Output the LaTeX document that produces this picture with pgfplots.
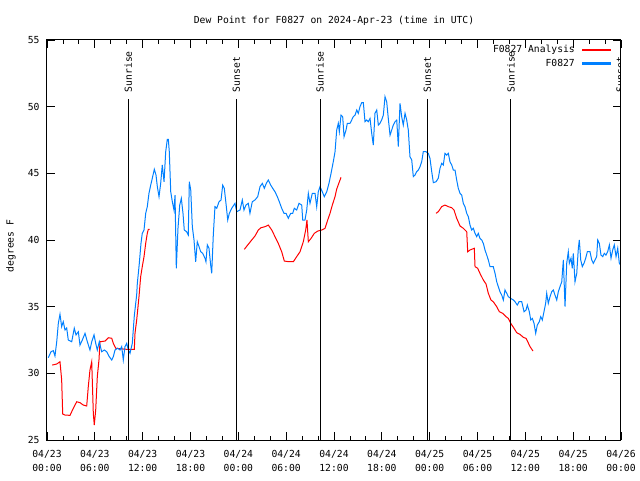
\documentclass[border=0pt]{standalone}
\usepackage{fontspec}
\setmainfont{DejaVu Sans Mono}
\usepackage{pgfplots}
\pgfplotsset{compat=1.18}
\definecolor{gred}{RGB}{255,0,0}
\definecolor{gblue}{RGB}{0,128,255}
\begin{document}
\begin{tikzpicture}
\useasboundingbox (-47pt,-40pt) rectangle (593pt,440pt);
\begin{axis}[
  at={(0pt,0pt)}, anchor=south west,
  scale only axis, width=574pt, height=400pt,
  xmin=0, xmax=72, ymin=25, ymax=55,
  xtick={0,6,...,72},
  xticklabels={{04/23\\00:00},{04/23\\06:00},{04/23\\12:00},{04/23\\18:00},{04/24\\00:00},{04/24\\06:00},{04/24\\12:00},{04/24\\18:00},{04/25\\00:00},{04/25\\06:00},{04/25\\12:00},{04/25\\18:00},{04/26\\00:00}},
  minor x tick num=2,
  ytick={25,30,...,55},
  tick align=inside,
  major tick length=8pt, minor tick length=4pt,
  tick style={black, line width=0.8pt},
  axis line style={black, line width=1pt},
  font=\fontsize{9.7}{14}\selectfont,
  /pgf/number format/assume math mode=true,
  xticklabel style={align=center, yshift=-7pt, font=\fontsize{9.7}{14}\selectfont},
  yticklabel style={xshift=-4pt},
  title={Dew Point for F0827 on 2024-Apr-23 (time in UTC)},
  title style={at={(axis description cs:0.5,1)}, anchor=south, inner sep=0pt, yshift=8pt},
  ylabel={degrees F},
  every axis y label/.style={at={(axis description cs:0,0.5)}, xshift=-36pt, yshift=-6pt, rotate=90, anchor=center},
  unbounded coords=jump,
  legend plot pos=right,
  legend cell align=right,
  legend style={at={(axis description cs:1,1)}, anchor=north east, xshift=-10pt, yshift=-4pt, draw=none, fill=none, inner sep=0pt, row sep=3pt, nodes={inner sep=1pt}, /tikz/every odd column/.append style={column sep=6pt}},
]
\addplot[gred, line width=1pt, legend image code/.code={\fill[fill=gred] (0pt,-0.55pt) rectangle (28pt,0.55pt);}] coordinates {
(0.66,30.62) (1.22,30.70) (1.63,30.87) (1.84,29.50) (1.97,26.95) (2.26,26.87) (2.89,26.85) (3.30,27.38) (3.73,27.87) (4.14,27.80) (4.55,27.62) (4.98,27.55) (5.18,29.00) (5.39,30.25) (5.61,30.87) (5.81,27.00) (5.93,26.12) (6.11,27.25) (6.31,29.75) (6.52,31.00) (6.65,32.37) (7.28,32.42) (7.69,32.67) (8.12,32.63) (8.32,32.25) (8.62,31.88) (10.00,31.80) (10.95,31.80) (11.04,33.00) (11.25,34.00) (11.54,35.75) (11.75,37.25) (11.95,38.00) (12.17,38.75) (12.38,39.75) (12.58,40.50) (12.71,40.80) (12.88,40.80)
(18,nan)
(24.75,39.30) (25.25,39.68) (25.68,40.00) (26.09,40.30) (26.51,40.75) (26.84,40.92) (27.35,41.00) (27.76,41.12) (28.19,40.75) (28.60,40.25) (29.01,39.75) (29.44,39.12) (29.77,38.42) (30.36,38.37) (30.90,38.37) (31.32,38.75) (31.74,39.12) (32.15,39.87) (32.45,40.75) (32.61,41.50) (32.78,39.87) (33.12,40.12) (33.53,40.50) (33.96,40.67) (34.46,40.75) (34.87,40.87) (35.21,41.50) (35.50,42.00) (35.79,42.62) (36.13,43.25) (36.34,43.82) (36.88,44.70)
(42,nan)
(48.80,42.00) (49.08,42.12) (49.51,42.50) (49.92,42.62) (50.34,42.50) (50.77,42.42) (51.05,42.25) (51.39,41.63) (51.81,41.05) (52.22,40.88) (52.65,40.62) (52.77,39.12) (53.06,39.25) (53.35,39.32) (53.60,39.38) (53.69,38.00) (54.02,37.88) (54.31,37.50) (54.73,37.00) (55.07,36.70) (55.36,36.00) (55.69,35.50) (55.98,35.37) (56.41,35.00) (56.74,34.62) (57.16,34.50) (57.58,34.25) (57.87,34.12) (58.17,33.75) (58.58,33.38) (58.92,33.05) (59.33,32.92) (59.75,32.70) (60.09,32.62) (60.30,32.37) (60.59,32.00) (60.71,31.90) (60.96,31.67)
};
\addlegendentry{F0827 Analysis}
\addplot[gblue, line width=1pt, legend image code/.code={\fill[fill=gblue] (0pt,-0.55pt) rectangle (28pt,0.55pt);}] coordinates {
(0.16,31.17) (0.50,31.62) (0.79,31.70) (1.00,31.30) (1.22,32.37) (1.42,33.75) (1.63,34.43) (1.84,33.50) (2.04,33.87) (2.26,33.25) (2.47,33.40) (2.67,32.50) (3.10,32.37) (3.42,33.38) (3.64,32.88) (3.93,33.12) (4.14,32.12) (4.43,32.50) (4.77,33.00) (5.06,32.37) (5.39,31.75) (5.61,32.37) (5.90,32.88) (6.11,32.25) (6.31,31.75) (6.56,32.37) (6.86,31.62) (7.19,31.75) (7.49,31.62) (7.81,31.25) (8.12,31.00) (8.32,31.25) (8.53,31.75) (8.87,31.88) (9.16,31.75) (9.37,32.00) (9.57,31.00) (9.78,32.00) (10.00,32.25) (10.20,31.75) (10.41,31.50) (10.70,32.25) (10.95,34.30) (11.25,35.90) (11.33,36.75) (11.58,38.25) (11.79,39.75) (11.95,40.50) (12.17,40.75) (12.38,42.00) (12.58,42.50) (12.79,43.50) (13.01,44.12) (13.21,44.63) (13.46,45.30) (13.67,44.88) (13.84,44.00) (14.05,43.25) (14.26,44.25) (14.46,45.63) (14.68,44.37) (14.89,46.62) (15.09,47.55) (15.22,47.55) (15.34,46.62) (15.52,43.62) (15.72,42.87) (15.93,42.25) (16.06,43.37) (16.22,37.88) (16.43,40.88) (16.65,42.62) (16.85,43.12) (17.06,42.00) (17.22,40.75) (17.52,40.62) (17.72,40.37) (17.85,44.37) (18.03,43.75) (18.23,41.00) (18.44,40.00) (18.65,38.37) (18.85,39.87) (19.07,39.50) (19.28,39.12) (19.53,39.00) (19.82,38.63) (19.94,38.37) (20.11,39.63) (20.32,39.38) (20.53,38.12) (20.66,37.50) (20.86,40.37) (21.07,42.50) (21.29,42.38) (21.58,42.87) (21.83,43.00) (22.04,44.12) (22.24,43.88) (22.45,42.75) (22.67,41.50) (22.87,42.00) (23.17,42.38) (23.58,42.75) (23.80,42.12) (24.21,42.25) (24.50,43.00) (24.71,42.25) (24.96,42.62) (25.25,42.75) (25.46,42.00) (25.75,42.87) (26.09,43.00) (26.43,43.25) (26.72,44.00) (27.01,44.25) (27.26,43.88) (27.51,44.25) (27.76,44.50) (28.06,44.12) (28.31,43.88) (28.60,43.62) (28.89,43.25) (29.14,42.87) (29.44,42.38) (29.73,42.00) (29.98,42.00) (30.27,41.63) (30.57,42.00) (30.82,42.00) (31.02,42.38) (31.32,42.25) (31.61,42.75) (31.95,42.62) (32.08,41.50) (32.36,41.50) (32.58,42.25) (32.78,43.50) (32.99,42.75) (33.28,43.50) (33.62,43.50) (33.83,42.50) (34.03,43.62) (34.25,44.00) (34.53,43.62) (34.78,43.25) (35.09,43.62) (35.37,44.25) (35.63,45.00) (35.91,45.87) (36.13,46.62) (36.34,48.25) (36.54,48.75) (36.67,48.12) (36.88,49.37) (37.09,49.25) (37.26,47.75) (37.51,48.25) (37.67,48.75) (38.01,48.75) (38.22,49.00) (38.42,49.25) (38.64,49.37) (38.85,49.75) (39.05,49.50) (39.26,50.00) (39.48,50.30) (39.68,50.30) (39.89,48.87) (40.10,49.00) (40.30,48.87) (40.52,49.12) (40.73,48.00) (40.93,47.12) (41.14,49.50) (41.36,49.75) (41.56,48.62) (41.77,48.75) (41.98,49.00) (42.19,49.37) (42.40,50.75) (42.61,50.37) (42.81,49.12) (43.03,47.87) (43.24,48.25) (43.44,48.62) (43.65,48.87) (43.87,49.00) (44.07,47.00) (44.28,50.25) (44.49,49.25) (44.69,48.62) (44.91,49.50) (45.12,49.00) (45.32,48.25) (45.53,46.25) (45.75,46.00) (45.95,44.75) (46.16,44.87) (46.37,45.12) (46.58,45.25) (46.79,45.50) (47.00,45.87) (47.20,46.62) (47.54,46.62) (47.83,46.50) (48.04,46.12) (48.26,45.12) (48.46,44.30) (48.80,44.37) (49.08,44.63) (49.30,45.38) (49.51,45.75) (49.71,45.62) (49.92,46.50) (50.14,46.37) (50.34,46.50) (50.55,45.87) (50.77,45.62) (50.97,45.25) (51.18,45.25) (51.39,44.50) (51.59,43.88) (51.81,43.50) (52.02,43.37) (52.22,42.75) (52.43,42.50) (52.65,42.00) (52.85,41.75) (53.06,41.12) (53.27,40.75) (53.48,40.88) (53.69,40.50) (53.90,40.25) (54.10,40.50) (54.31,40.12) (54.53,40.00) (54.73,39.75) (54.94,39.25) (55.16,38.87) (55.36,38.50) (55.57,38.00) (55.98,38.00) (56.20,37.50) (56.41,36.87) (56.61,36.50) (56.82,36.12) (57.04,35.87) (57.24,35.50) (57.45,36.25) (57.67,36.00) (57.87,35.75) (58.17,35.62) (58.50,35.50) (58.71,35.37) (58.99,35.12) (59.21,35.37) (59.55,35.37) (59.84,34.62) (60.09,34.75) (60.25,35.12) (60.50,34.62) (60.68,34.00) (60.88,34.12) (61.09,33.75) (61.30,33.00) (61.50,33.62) (61.75,33.87) (61.93,34.25) (62.13,34.00) (62.34,34.62) (62.55,35.25) (62.68,36.00) (62.88,35.25) (63.10,35.75) (63.31,36.12) (63.51,36.25) (63.72,35.87) (63.94,35.50) (64.14,36.12) (64.35,36.50) (64.57,36.87) (64.69,37.88) (64.77,38.50) (64.98,35.00) (65.19,38.25) (65.39,39.12) (65.52,38.25) (65.73,38.63) (65.89,37.88) (66.02,39.00) (66.23,36.87) (66.45,37.50) (66.65,39.38) (66.77,40.00) (66.95,38.50) (67.15,38.00) (67.36,38.25) (67.57,38.63) (67.78,39.12) (68.11,39.12) (68.33,38.50) (68.53,38.25) (68.74,38.50) (68.95,38.75) (69.08,40.00) (69.28,39.75) (69.49,38.87) (69.71,38.75) (69.91,39.00) (70.12,38.87) (70.33,39.12) (70.54,39.63) (70.75,38.63) (70.96,39.25) (71.16,39.63) (71.38,38.75) (71.59,39.38) (71.79,38.25) (71.97,38.12)
};
\addlegendentry{F0827}
\foreach \h/\lab in {10.2/Sunrise, 23.75/Sunset, 34.25/Sunrise, 47.7/Sunset, 58.2/Sunrise, 71.9/Sunset}{
  \edef\temp{\noexpand\draw[black, line width=1pt] (axis cs:\h,25) -- (axis cs:\h,50.55);
  \noexpand\node[rotate=90, anchor=west, inner sep=1pt] at (axis cs:\h,51.0) {\lab};}
  \temp
}
\end{axis}
\end{tikzpicture}
\end{document}
